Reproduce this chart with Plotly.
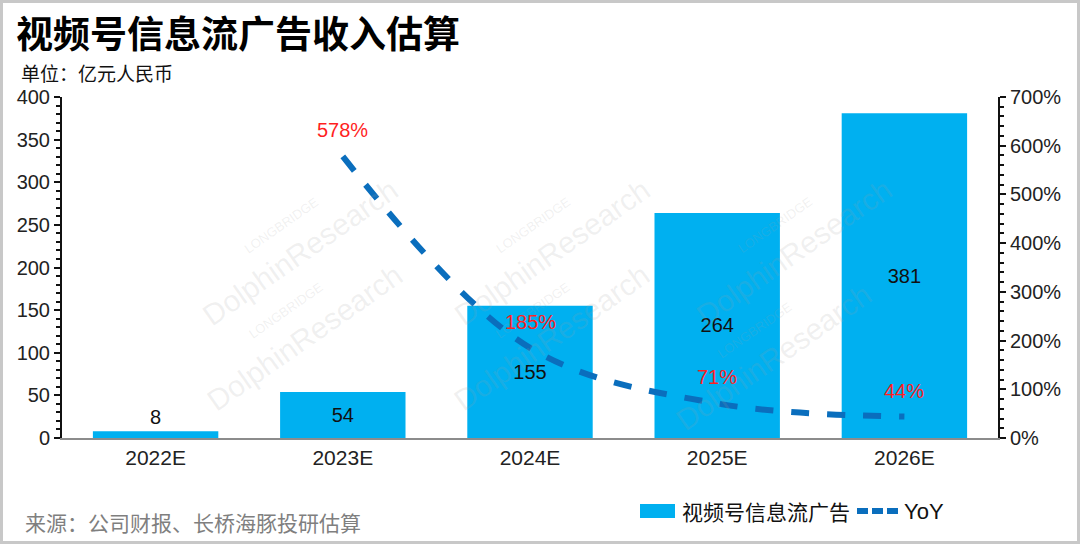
import plotly.graph_objects as go

# ---- data ----
categories = ["2022E", "2023E", "2024E", "2025E", "2026E"]
revenue = [8, 54, 155, 264, 381]
yoy_categories = ["2023E", "2024E", "2025E", "2026E"]
yoy = [5.78, 1.85, 0.71, 0.44]
yoy_labels = ["578%", "185%", "71%", "44%"]
left_ticks = [0, 50, 100, 150, 200, 250, 300, 350, 400]
right_ticks = [0, 1, 2, 3, 4, 5, 6, 7]
right_tick_labels = ["0%", "100%", "200%", "300%", "400%", "500%", "600%", "700%"]
bar_name = "视频号信息流广告"
line_name = "YoY"

W, H = 1080, 544
ML, MR, MT, MB = 62, 82, 97, 106
PW, PH = W - ML - MR, H - MT - MB

def px(x):
    return (x - ML) / PW

def py(y):
    return (H - MB - y) / PH

FONT = "Liberation Sans, Noto Sans CJK SC, sans-serif"
CJK = "Noto Sans CJK SC, sans-serif"
BAR_COLOR = "#00B0F0"
LINE_COLOR = "#0A6EBD"

fig = go.Figure()

fig.add_trace(go.Bar(
    x=categories, y=revenue, name=bar_name,
    marker=dict(color=BAR_COLOR, line=dict(width=0)),
    text=[str(v) for v in revenue],
    textposition=["outside", "inside", "inside", "inside", "inside"],
    insidetextanchor="middle",
    textfont=dict(color="#111111", size=20, family=FONT),
    constraintext="none", textangle=0,
    cliponaxis=False, showlegend=False,
))

fig.add_trace(go.Scatter(
    x=yoy_categories, y=yoy, name=line_name, yaxis="y2", mode="lines",
    line=dict(color=LINE_COLOR, width=6, dash="dash", shape="spline", smoothing=1.0),
    showlegend=False,
))

for c, v, t in zip(yoy_categories, yoy, yoy_labels):
    fig.add_annotation(x=c, y=v, yref="y2", text=t, showarrow=False,
                       yshift=26, font=dict(color="#FF1F1F", size=20, family=FONT))

# watermarks
wm = [(180, 150), (545, 150), (900, 150), (185, 420), (545, 420), (880, 440)]
for (wx, wy) in wm:
    fig.add_annotation(xref="paper", yref="paper", x=px(wx), y=py(wy),
                       text="<span style='font-size:13px'>LONGBRIDGE</span><br>DolphinResearch",
                       showarrow=False, textangle=-35,
                       font=dict(color="rgba(160,160,160,0.16)", size=30, family=FONT))

# titles
fig.add_annotation(xref="paper", yref="paper", x=px(15), y=py(32), xanchor="left", yanchor="middle",
                   text="<b>视频号信息流广告收入估算</b>", showarrow=False, borderpad=0,
                   font=dict(size=37, color="#000000", family=CJK))
fig.add_annotation(xref="paper", yref="paper", x=px(20), y=py(72), xanchor="left", yanchor="middle",
                   text="单位：亿元人民币", showarrow=False, borderpad=0,
                   font=dict(size=19, color="#111111", family=CJK))
fig.add_annotation(xref="paper", yref="paper", x=px(23), y=py(522), xanchor="left", yanchor="middle",
                   text="来源：公司财报、长桥海豚投研估算", showarrow=False,
                   font=dict(size=21, color="#7f7f7f", family=CJK))

# hand-drawn legend
fig.add_shape(type="rect", xref="paper", yref="paper",
              x0=px(640), x1=px(675), y0=py(518), y1=py(504),
              fillcolor=BAR_COLOR, line=dict(width=0))
fig.add_annotation(xref="paper", yref="paper", x=px(681), y=py(511), xanchor="left", yanchor="middle",
                   text=bar_name, showarrow=False, borderpad=0,
                   font=dict(size=21, color="#111111", family=CJK))
fig.add_shape(type="line", xref="paper", yref="paper",
              x0=px(857), x1=px(898), y0=py(511), y1=py(511),
              line=dict(color=LINE_COLOR, width=6, dash="11px,4px"))
fig.add_annotation(xref="paper", yref="paper", x=px(903), y=py(511), xanchor="left", yanchor="middle",
                   text=line_name, showarrow=False, borderpad=0,
                   font=dict(size=22, color="#111111", family=FONT))

# frame
fig.add_shape(type="rect", xref="paper", yref="paper",
              x0=px(1.5), x1=px(W - 1.5), y0=py(H - 1.5), y1=py(1.5),
              line=dict(color="#c8c8c8", width=3), layer="below")

fig.update_layout(
    width=W, height=H,
    margin=dict(l=ML, r=MR, t=MT, b=MB),
    paper_bgcolor="white", plot_bgcolor="white",
    bargap=0.33,
    showlegend=False,
    xaxis=dict(type="category", showline=True, linecolor="#8c8c8c", linewidth=2,
               ticks="", tickfont=dict(size=21, color="#222222", family=FONT),
               showgrid=False, zeroline=False),
    yaxis=dict(range=[0, 400], tickvals=left_ticks, showline=True, linecolor="#111111", linewidth=2,
               ticks="outside", ticklen=6, tickwidth=2, tickcolor="#111111",
               minor=dict(dtick=10, ticks="outside", ticklen=4, tickwidth=1.5, tickcolor="#111111"),
               tickfont=dict(size=20, color="#222222", family=FONT),
               showgrid=False, zeroline=False, ticksuffix=" "),
    yaxis2=dict(range=[0, 7], overlaying="y", side="right", tickvals=right_ticks,
                ticktext=right_tick_labels, showline=True, linecolor="#111111", linewidth=2,
                ticks="outside", ticklen=6, tickwidth=2, tickcolor="#111111",
                minor=dict(dtick=0.2, ticks="outside", ticklen=4, tickwidth=1.5, tickcolor="#111111"),
                tickfont=dict(size=20, color="#222222", family=FONT),
                showgrid=False, zeroline=False),
)

fig.write_html("out.html", config={"displayModeBar": False},
               post_script="document.body.style.margin='0';document.body.style.overflow='hidden';")
